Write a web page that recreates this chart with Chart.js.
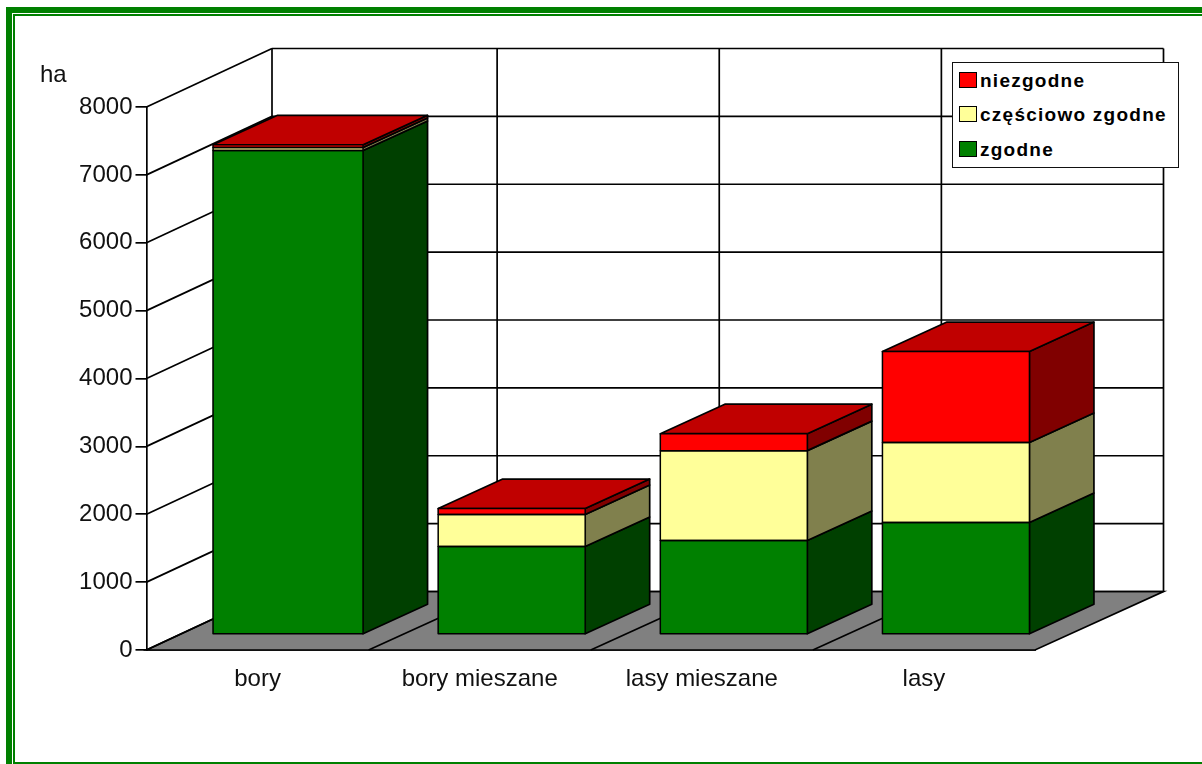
<!DOCTYPE html>
<html>
<head>
<meta charset="utf-8">
<script src="https://cdn.jsdelivr.net/npm/chart.js@4"></script>
<style>
  html, body { margin: 0; padding: 0; background: #fff; overflow: hidden; }
  #wrap { position: relative; width: 1202px; height: 764px; overflow: hidden; font-family: "Liberation Sans", Arial, sans-serif; }
  canvas { position: absolute; left: 0; top: 0; }
  .frame { position: absolute; box-sizing: border-box; border-style: solid; border-color: #008000; }
  #frame-outer { left: 6px; top: 7px; width: 1300px; height: 900px; border-width: 6px; }
  #frame-inner { left: 13px; top: 14px; width: 1300px; height: 750px; border-width: 2px; }
  #unit { position: absolute; left: 40px; top: 60px; font-size: 24px; color: #111; }
  #legend { position: absolute; left: 952px; top: 62px; width: 227px; height: 106px; box-sizing: border-box; border: 1.5px solid #111; background: #fff; }
  .legend-row { position: absolute; left: 6px; height: 18px; display: flex; align-items: center; white-space: nowrap; font-size: 19px; font-weight: bold; letter-spacing: 1.25px; color: #000; }
  .legend-swatch { width: 18px; height: 16px; box-sizing: border-box; border: 1.5px solid #000; margin-right: 3px; }
  .legend-text { position: relative; top: 1px; }
</style>
</head>
<body>
<div id="wrap">
  <div class="frame" id="frame-outer"></div>
  <div class="frame" id="frame-inner"></div>
  <canvas id="chart" width="1202" height="764"></canvas>
  <div id="unit">ha</div>
  <div id="legend"></div>
</div>
<script>
const categories = ["bory", "bory mieszane", "lasy mieszane", "lasy"];
const zgodne = [7130, 1296, 1384, 1650];
const czesciowo = [45, 471, 1325, 1178];
const niezgodne = [40, 88, 250, 1340];
const yTicks = [0, 1000, 2000, 3000, 4000, 5000, 6000, 7000, 8000];

// przod, bok, gora
const seriesColors = {
  zgodne: ["#008000", "#004000", "#006000"],
  czesciowo: ["#FFFF99", "#80804D", "#BFBF73"],
  niezgodne: ["#FF0000", "#800000", "#C00000"],
};

const WALL_LEFT = 125.5;    // lewa sciana jest troche krotsza niz reszta
const WALL_X = 128.5;
const WALL_Y = -58.5;
const BAR_SHIFT_X = 32;
const BAR_SHIFT_Y = -15.5;
const BAR_DEPTH_X = 64.5;
const BAR_DEPTH_Y = -29.5;
const FIRST_BAR_EXTRA = 3;  // pierwszy slupek jest w oryginale szerszy
const LINE_W = 1.7;

function line(ctx, x1, y1, x2, y2) {
  ctx.beginPath();
  ctx.moveTo(x1, y1);
  ctx.lineTo(x2, y2);
  ctx.stroke();
}

function face(ctx, pts, fill) {
  ctx.beginPath();
  pts.forEach((p, i) => (i ? ctx.lineTo(p[0], p[1]) : ctx.moveTo(p[0], p[1])));
  ctx.closePath();
  ctx.fillStyle = fill;
  ctx.fill();
  ctx.stroke();
}

// sciany, podloga i siatka "3D"
function drawRoom(chart) {
  const ctx = chart.ctx;
  const { left, right, bottom, top } = chart.chartArea;
  const xs = chart.scales.x;
  const ys = chart.scales.y;
  const step = (xs.getPixelForValue(1) - xs.getPixelForValue(0));
  const backLeft = left + WALL_LEFT;
  const backRight = right + WALL_X;
  const backBottom = bottom + WALL_Y;
  const backTop = top + WALL_Y;

  ctx.save();
  ctx.strokeStyle = "#000";
  ctx.lineWidth = LINE_W;

  face(ctx, [[left, bottom], [right, bottom], [backRight, backBottom], [backLeft, backBottom]], "#808080");

  categories.forEach((c, i) => {
    if (i === 0) return;
    const fx = left + step * i;
    line(ctx, fx, bottom, fx + WALL_X, backBottom);
    line(ctx, fx + WALL_X, backBottom, fx + WALL_X, backTop);
  });

  ys.ticks.forEach(t => {
    const y = ys.getPixelForValue(t.value);
    line(ctx, left, y, backLeft, y + WALL_Y);
    line(ctx, backLeft, y + WALL_Y, backRight, y + WALL_Y);
  });
  line(ctx, backLeft, backTop, backLeft, backBottom);
  line(ctx, backRight, backTop, backRight, backBottom);
  ctx.restore();
}

// boki i gora slupkow
function drawBarSides(chart) {
  const ctx = chart.ctx;
  ctx.strokeStyle = "#000";
  ctx.lineWidth = LINE_W;
  ctx.lineJoin = "round";
  const last = chart.data.datasets.length - 1;
  chart.data.datasets.forEach((ds, d) => {
    chart.getDatasetMeta(d).data.forEach(bar => {
      const xr = bar.x + bar.width / 2;
      const xl = bar.x - bar.width / 2;
      face(ctx, [
        [xr, bar.base], [xr + BAR_DEPTH_X, bar.base + BAR_DEPTH_Y],
        [xr + BAR_DEPTH_X, bar.y + BAR_DEPTH_Y], [xr, bar.y],
      ], ds.sideColor);
      if (d === last) {
        face(ctx, [
          [xl, bar.y], [xr, bar.y],
          [xr + BAR_DEPTH_X, bar.y + BAR_DEPTH_Y], [xl + BAR_DEPTH_X, bar.y + BAR_DEPTH_Y],
        ], ds.topColor);
      }
    });
  });
}

// obrys przednich scian
function drawBarOutlines(chart) {
  const ctx = chart.ctx;
  ctx.lineWidth = 1.5;
  chart.data.datasets.forEach((ds, d) => {
    chart.getDatasetMeta(d).data.forEach(bar => {
      ctx.strokeRect(bar.x - bar.width / 2, bar.y, bar.width, bar.base - bar.y);
    });
  });
}

const room3d = {
  id: "room3d",
  afterDatasetsUpdate(chart) {
    chart.data.datasets.forEach((ds, d) => {
      const bar = chart.getDatasetMeta(d).data[0];
      bar.width += FIRST_BAR_EXTRA;
      bar.x -= FIRST_BAR_EXTRA / 2;
    });
  },
  beforeDatasetsDraw(chart) {
    drawRoom(chart);
    chart.ctx.save();
    chart.ctx.translate(BAR_SHIFT_X, BAR_SHIFT_Y);
    drawBarSides(chart);
  },
  afterDatasetsDraw(chart) {
    drawBarOutlines(chart);
    chart.ctx.restore();
  },
};

function makeDataset(label, data, colors) {
  return {
    label,
    data,
    backgroundColor: colors[0],
    sideColor: colors[1],
    topColor: colors[2],
    borderWidth: 0,
    barThickness: 147,
    clip: false,
  };
}

const chart = new Chart(document.getElementById("chart"), {
  type: "bar",
  data: {
    labels: categories,
    datasets: [
      makeDataset("zgodne", zgodne, seriesColors.zgodne),
      makeDataset("częściowo zgodne", czesciowo, seriesColors.czesciowo),
      makeDataset("niezgodne", niezgodne, seriesColors.niezgodne),
    ],
  },
  plugins: [room3d],
  options: {
    responsive: false,
    animation: false,
    layout: { padding: { top: 107, right: 167, left: 0, bottom: 0 } },
    plugins: { legend: { display: false }, tooltip: { enabled: false } },
    scales: {
      x: {
        stacked: true,
        afterFit: s => { s.height = 114; },
        grid: { display: false, drawTicks: false },
        border: { color: "#000", width: LINE_W },
        ticks: { color: "#111", font: { family: "Liberation Sans", size: 24 }, padding: 15, autoSkip: false, maxRotation: 0 },
      },
      y: {
        stacked: true,
        min: yTicks[0],
        max: yTicks[yTicks.length - 1],
        afterFit: s => { s.width = 146.5; },
        afterBuildTicks: s => { s.ticks = yTicks.map(v => ({ value: v })); },
        grid: { drawOnChartArea: false, drawTicks: true, tickLength: 11, color: "#000", lineWidth: LINE_W },
        border: { color: "#000", width: LINE_W },
        ticks: { color: "#111", font: { family: "Liberation Sans", size: 24 }, padding: 3, callback: v => String(v) },
      },
    },
  },
});

// legenda w odwrotnej kolejnosci, jak w oryginale
const legendEl = document.getElementById("legend");
const rowTops = [8, 42, 77];
[...chart.data.datasets].reverse().forEach((ds, i) => {
  const row = document.createElement("div");
  row.className = "legend-row";
  row.style.top = rowTops[i] + "px";
  const sw = document.createElement("span");
  sw.className = "legend-swatch";
  sw.style.background = ds.backgroundColor;
  const txt = document.createElement("span");
  txt.className = "legend-text";
  txt.textContent = ds.label;
  row.appendChild(sw);
  row.appendChild(txt);
  legendEl.appendChild(row);
});
</script>
</body>
</html>
